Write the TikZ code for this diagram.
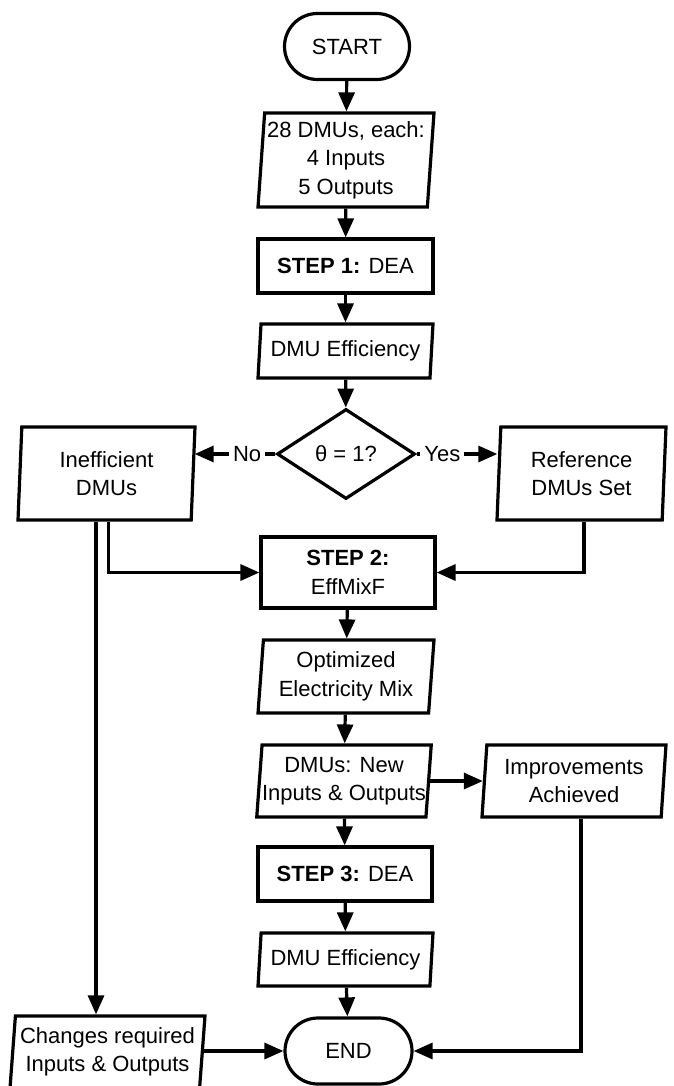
\documentclass[tikz,border=0pt]{standalone}
\usepackage{fontspec}
\setmainfont{Liberation Sans}
\usetikzlibrary{arrows.meta,shapes.geometric}
\begin{document}
\begin{tikzpicture}[x=1pt,y=-1pt,
  every node/.style={font=\fontsize{22}{28.5}\selectfont, align=center, inner sep=0pt},
  base/.style={draw, line width=3.2pt},
  dims/.style 2 args={minimum width=#1pt, minimum height=#2pt},
  term/.style={base, rectangle, rounded corners=33pt},
  proc/.style={base, rectangle},
  % parallelogram; the argument is the angle of its slanted sides
  data/.style={base, trapezium, trapezium left angle=#1, trapezium right angle=180-#1,
               trapezium stretches body},
  decide/.style={base, diamond},
  flow/.style={line width=3.2pt, -{Triangle[length=19pt,width=16pt]}},
  tag/.style={fill=white, inner xsep=4pt, inner ysep=2pt}
]
\useasboundingbox (0,0) rectangle (673,1086);

% main column
\node[term, dims={125}{66}]             (start) at (347,46.5)   {START};
\node[data=85.1, dims={176}{94}]        (in)    at (346,160)    {28 DMUs, each:\\4 Inputs\\5 Outputs};
\node[proc, dims={175}{54}]             (s1)    at (345.5,266)  {\textbf{STEP 1:} DEA};
\node[data=81.6, dims={175}{54}]        (eff1)  at (345.5,351)  {DMU Efficiency};
\node[decide, dims={138}{90}]           (dec)   at (346,454)    {θ = 1?};
\node[data=85.1, dims={177}{93}]        (ineff) at (106.5,473.5){Inefficient\\DMUs};
\node[data=85.1, dims={169}{93}]        (ref)   at (581.5,473.5){Reference\\DMUs Set};
\node[proc, dims={174}{71}]             (s2)    at (348,572.5)  {\textbf{STEP 2:}\\EffMixF};
\node[data=83.7, dims={176}{73}]        (opt)   at (346,676.5)  {Optimized\\Electricity Mix};
\node[data=83.7, dims={174}{72}]        (newio) at (344,781)    {DMUs: New\\Inputs \& Outputs};
\node[data=83.7, dims={184}{72}]        (impr)  at (574,781)    {Improvements\\Achieved};
\node[proc, dims={174}{54}]             (s3)    at (345,874)    {\textbf{STEP 3:} DEA};
\node[data=81.4, dims={175}{53}]        (eff2)  at (345.5,959.5){DMU Efficiency};
\node[term, dims={127}{66}]             (end)   at (348.5,1051) {END};
\node[data=83.7, dims={195}{72}]        (chg)   at (107.5,1052) {Changes required\\Inputs \& Outputs};

% straight flow down the middle
\draw[flow] (start) -- (in);
\draw[flow] (in) -- (s1);
\draw[flow] (s1) -- (eff1);
\draw[flow] (eff1) -- (dec);
\draw[flow] (s2) -- (opt);
\draw[flow] (opt) -- (newio);
\draw[flow] (newio) -- (s3);
\draw[flow] (s3) -- (eff2);
\draw[flow] (eff2) -- (end);

% decision branches
\draw[flow] (dec.west) -- node[tag, pos=0.35] (no) {No} (dec.west -| ineff.east);
\draw[flow] (dec.east) -- node[tag, pos=0.32] (yes) {Yes} (dec.east -| ref.west);

% into step 2
\draw[flow] ([xshift=2pt]ineff.south) |- (s2.west);
\draw[flow] ([xshift=2.5pt]ref.south) |- (s2.east);

% inefficient units to the required changes
\draw[flow] ([xshift=-10.5pt]ineff.south) -- ([xshift=-10.5pt]ineff.south |- chg.north);

% results to the end
\draw[flow] (newio.east) -- (newio.east -| impr.west);
\draw[flow] ([xshift=7pt]impr.south) |- (end.east);
\draw[flow] (chg.east |- end.east) -- (end.west);
\end{tikzpicture}
\end{document}
